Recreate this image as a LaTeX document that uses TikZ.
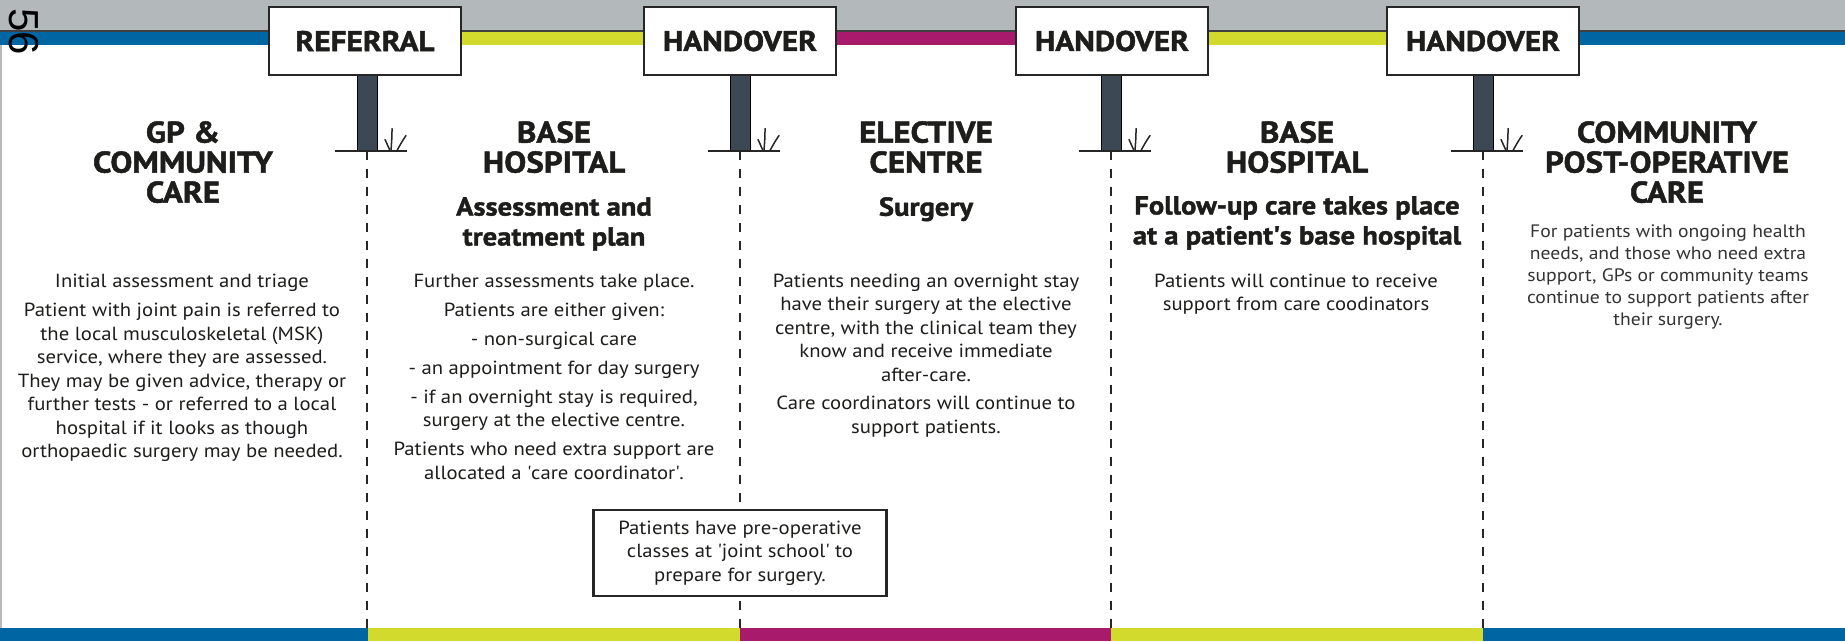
\documentclass[tikz,border=0pt]{standalone}
\usepackage{fontspec}
\setmainfont{PT Sans}[FakeStretch=1.09]
\newfontfamily\headfont{PT Sans}[FakeStretch=1.1, BoldFeatures={FakeBold=1.5}]
\newfontfamily\numfont{Liberation Sans}
\definecolor{topgrey}{HTML}{B3B8BB}
\definecolor{nhsblue}{HTML}{0066A3}
\definecolor{limeg}{HTML}{D2DA2E}
\definecolor{berry}{HTML}{A71A6C}
\definecolor{postgrey}{HTML}{3C4853}
\definecolor{txt}{HTML}{1D1D1B}
\definecolor{lighttxt}{HTML}{333333}
\newcommand{\sq}{\textquotesingle}
\tikzset{
  signbox/.style={draw=black!85, line width=2.5pt, fill=white, minimum width=192pt,
    minimum height=68pt, inner sep=0pt, text=txt, font=\headfont\bfseries\fontsize{28.5}{28.5}\selectfont},
  postbar/.style={draw=black, line width=1pt, fill=postgrey, minimum width=20pt,
    minimum height=75pt, inner sep=0pt},
  ground/.style={line width=2pt, draw=black!85},
  grass/.style={line width=1.5pt, draw=black!85, line cap=round},
  dashline/.style={line width=2pt, draw=black!85, dash pattern=on 9pt off 9pt},
  colhead/.style={anchor=north, align=center, inner sep=0pt, text=txt,
    font=\headfont\bfseries\fontsize{30}{30}\selectfont},
  subhead/.style={anchor=north, align=center, inner sep=0pt, text=txt,
    font=\headfont\bfseries\fontsize{26}{30}\selectfont},
  bodytext/.style={anchor=north, align=center, inner sep=0pt, text=txt,
    font=\fontsize{19}{23.5}\selectfont},
  lighttext/.style={anchor=north, align=center, inner sep=0pt, text=lighttxt,
    font=\fontsize{18}{22}\selectfont},
  notebox/.style={draw=black!85, line width=2.5pt, fill=white, minimum width=293pt,
    minimum height=86pt, inner sep=0pt, align=center, text=txt,
    font=\fontsize{19}{23.5}\selectfont}
}
\begin{document}
\begin{tikzpicture}[x=1pt,y=-1pt]
\useasboundingbox (0,0) rectangle (1845,641);
\fill[white] (0,0) rectangle (1845,641);
% top band
\fill[topgrey] (0,0) rectangle (1845,31);
\fill[black!75] (0,30) rectangle (1845,32);
\fill[nhsblue] (0,32) rectangle (368,45);
\fill[limeg] (368,32) rectangle (740,45);
\fill[berry] (740,32) rectangle (1111,45);
\fill[limeg] (1111,32) rectangle (1483,45);
\fill[nhsblue] (1483,32) rectangle (1845,45);
% bottom band
\fill[nhsblue] (0,628) rectangle (368,641);
\fill[limeg] (368,628) rectangle (740,641);
\fill[berry] (740,628) rectangle (1111,641);
\fill[limeg] (1111,628) rectangle (1483,641);
\fill[nhsblue] (1483,628) rectangle (1845,641);
% left page edge
\draw[gray!55, line width=2pt] (1,45) -- (1,628);
% page number
\node[rotate=-90, inner sep=0pt, font=\numfont\fontsize{42}{42}\selectfont] (pg) at (24,31.5) {56};

% posts
\foreach \n/\x in {1/367, 2/740, 3/1111, 4/1483} {
  \node[postbar] (p\n) at (\x,112.5) {};
  \coordinate (e\n) at (\x,628);
  \draw[dashline] (p\n.south) -- (e\n);
  \draw[ground] (p\n.south) ++(-32,0) -- ++(72,0);
  \draw[grass] (p\n.south) ++(18,-11) -- ++(5,11);
  \draw[grass] (p\n.south) ++(25,-22) .. controls ++(0,8) .. ++(-1,22);
  \draw[grass] (p\n.south) ++(39,-15) .. controls ++(-4,6) .. ++(-9,15);
}

% signs
\node[signbox] (s1) at (365,41) {REFERRAL};
\node[signbox] (s2) at (740,41) {HANDOVER};
\node[signbox] (s3) at (1112,41) {HANDOVER};
\node[signbox] (s4) at (1483,41) {HANDOVER};

% column headings
\node[colhead] (h1) at (183,121) {GP \&\\COMMUNITY\\CARE};
\node[colhead] (h2) at (554,121) {BASE\\HOSPITAL};
\node[colhead] (h3) at (926,121) {ELECTIVE\\CENTRE};
\node[colhead] (h4) at (1297,121) {BASE\\HOSPITAL};
\node[colhead] (h5) at (1667,121) {COMMUNITY\\POST-OPERATIVE\\CARE};

% sub headings
\node[subhead] (sh2) at (554,197) {Assessment and\\treatment plan};
\node[subhead] (sh3) at (926,197) {Surgery};
\node[subhead] (sh4) at (1297,196) {Follow-up care takes place\\at a patient\sq s base hospital};

% body texts
\node[bodytext] (b1) at (182,273.5) {Initial assessment and triage\\[6pt]
Patient with joint pain is referred to\\
the local musculoskeletal (MSK)\\
service, where they are assessed.\\
They may be given advice, therapy or\\
further tests - or referred to a local\\
hospital if it looks as though\\
orthopaedic surgery may be needed.};

\node[bodytext] (b2) at (554,273.5) {Further assessments take place.\\[5.5pt]
Patients are either given:\\[5.5pt]
- non-surgical care\\[5.5pt]
- an appointment for day surgery\\[5.5pt]
- if an overnight stay is required,\\
surgery at the elective centre.\\[5.5pt]
Patients who need extra support are\\
allocated a \sq care coordinator\sq.};

\node[bodytext] (b3) at (926,273.5) {Patients needing an overnight stay\\
have their surgery at the elective\\
centre, with the clinical team they\\
know and receive immediate\\
after-care.\\[5pt]
Care coordinators will continue to\\
support patients.};

\node[bodytext] (b4) at (1296,273.5) {Patients will continue to receive\\
support from care coodinators};

\node[lighttext] (b5) at (1668,225) {For patients with ongoing health\\
needs, and those who need extra\\
support, GPs or community teams\\
continue to support patients after\\
their surgery.};

% joint school note
\node[notebox] (js) at (740,553) {Patients have pre-operative\\
classes at \sq joint school\sq{} to\\
prepare for surgery.};
\end{tikzpicture}
\end{document}
